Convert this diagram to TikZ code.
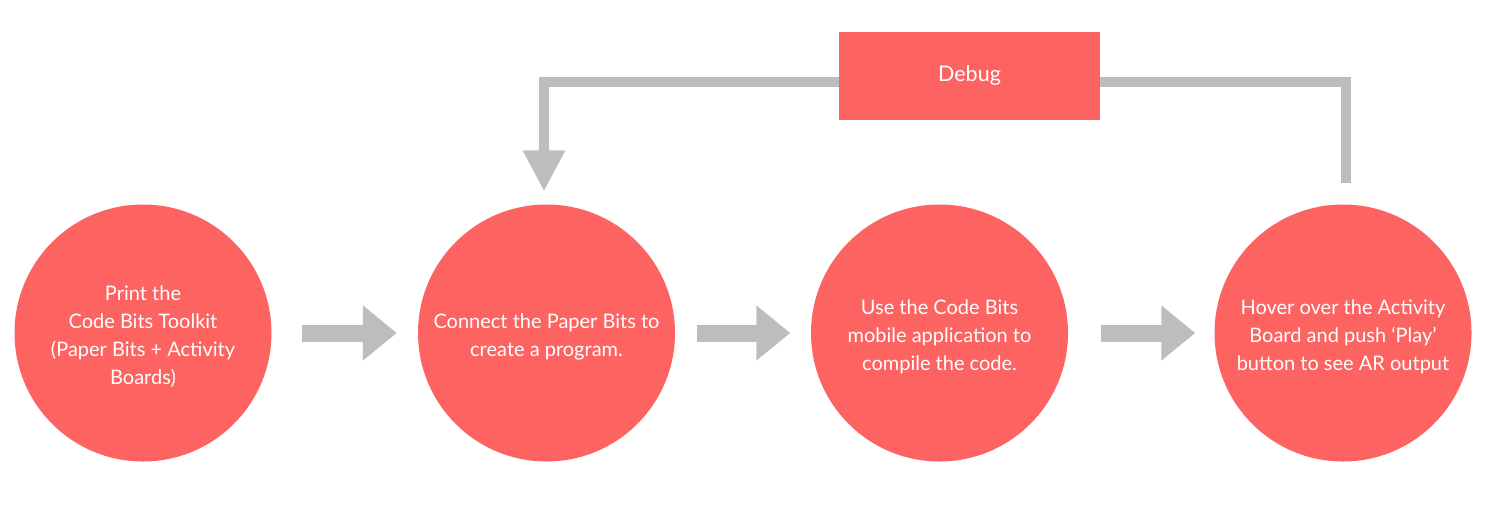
\documentclass[tikz,border=0pt]{standalone}
\usepackage{fontspec}
\setmainfont{Lato}
\usetikzlibrary{arrows.meta}
\definecolor{boxred}{HTML}{FC6361}
\definecolor{flowgray}{HTML}{BDBDBD}
\tikzset{
  stepcircle/.style={circle, fill=boxred, draw=none, minimum size=257pt, inner sep=0pt},
  steptext/.style={text=white, align=center, inner sep=0pt, font=\fontsize{20}{28}\selectfont},
  debugbox/.style={rectangle, fill=boxred, draw=none, minimum width=261pt, minimum height=88pt,
    inner sep=0pt, text=white, font=\fontsize{21.5}{24}\selectfont},
  blockarrow/.style={draw=flowgray, line width=17pt, line cap=butt,
    -{Triangle[length=34pt,width=53pt]}},
  loopline/.style={draw=flowgray, line width=9.5pt, line cap=butt, line join=miter}
}
\begin{document}
\begin{tikzpicture}[x=1pt,y=-1pt]
\useasboundingbox (0,0) rectangle (1506,520);
\node[stepcircle] (c1) at (143,333) {};
\node[stepcircle] (c2) at (546.5,333) {};
\node[stepcircle] (c3) at (939.5,333) {};
\node[stepcircle] (c4) at (1343,333) {};
\node[steptext] (t1) at ([yshift=-4pt]c1.center) {Print the\\Code Bits Toolkit\\(Paper Bits + Activity\\Boards)};
\node[steptext] (t2) at ([yshift=-4pt]c2.center) {Connect the Paper Bits to\\create a program.};
\node[steptext] (t3) at ([yshift=-4pt]c3.center) {Use the Code Bits\\mobile application to\\compile the code.};
\node[steptext] (t4) at ([yshift=-4pt]c4.center) {Hover over the Activity\\Board and push ‘Play’\\button to see AR output};
\node[debugbox] (dbg) at (969.5,76) {Debug};
\draw[blockarrow] ([xshift=30.5pt]c1.east) -- ([xshift=-21pt]c2.west);
\draw[blockarrow] ([xshift=22pt]c2.east) -- ([xshift=-20.5pt]c3.west);
\draw[blockarrow] ([xshift=33pt]c3.east) -- ([xshift=-19pt]c4.west);
\draw[loopline, -{Triangle[length=41pt,width=40pt]}] ([yshift=-6pt]dbg.west) -| ([xshift=-2.5pt,yshift=13pt]c2.north);
\draw[loopline] ([yshift=-6pt]dbg.east) -| ([xshift=3pt,yshift=21pt]c4.north);
\end{tikzpicture}
\end{document}
